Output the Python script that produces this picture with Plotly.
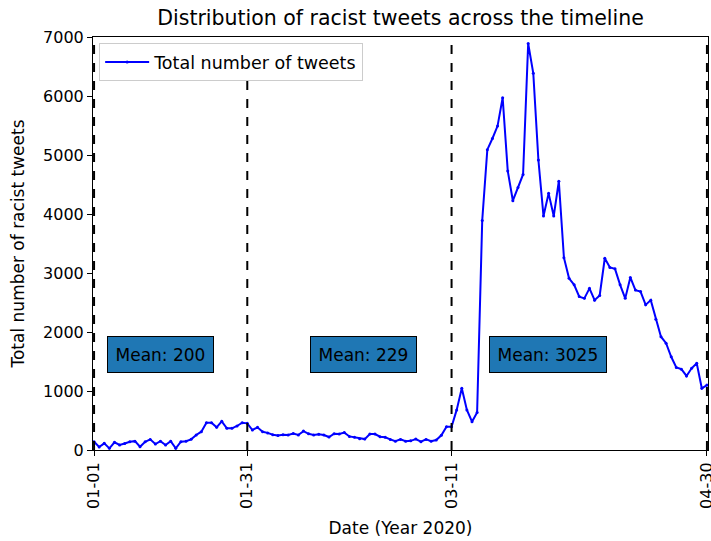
import pandas as pd
import plotly.graph_objects as go

# ---- data ----
start_date = "2020-01-01"
tweet_counts = [
    140, 50, 113, 28, 130, 85, 110, 140, 150, 55, 140, 180, 100, 150, 85, 150, 28,
    140, 150, 181, 254, 310, 463, 463, 384, 486, 367, 367, 407, 463, 452, 339, 384, 310,
    290, 260, 245, 260, 255, 280, 255, 320, 275, 255, 265, 255, 220, 275, 270, 295, 230, 215, 190,
    185, 270, 270, 225, 215, 180, 150, 180, 150, 155, 185, 140, 180, 150, 170, 250,
    395, 395, 680, 1045, 680, 480, 635, 3890, 5090, 5280, 5490, 5970, 4730, 4225, 4450, 4670,
    6890, 6385, 4915, 3965, 4350, 3965, 4555, 3260, 2910, 2800, 2600, 2570, 2740, 2540, 2620,
    3250, 3095, 3070, 2800, 2570, 2925, 2710, 2685, 2460, 2540, 2215, 1920, 1810, 1580, 1400,
    1370, 1255, 1385, 1470, 1045, 1100,
]
dates = pd.date_range(start_date, periods=len(tweet_counts), freq="D")

split_dates = ["2020-01-01", "2020-01-31", "2020-03-11", "2020-04-30"]
tick_labels = ["01-01", "01-31", "03-11", "04-30"]

mean_labels = ["Mean: 200", "Mean: 229", "Mean: 3025"]
mean_label_dates = ["2020-01-03 12:00", "2020-02-12 08:00", "2020-03-18 08:00"]
mean_label_level = 1620

FONT = "DejaVu Sans"

fig = go.Figure()
fig.add_trace(go.Scatter(
    x=dates, y=tweet_counts, mode="lines+markers",
    name="Total number of tweets",
    line=dict(color="#0000ff", width=2),
    marker=dict(color="#0000ff", size=3),
))

for d in split_dates:
    fig.add_shape(type="line", xref="x", yref="paper", x0=d, x1=d, y0=0, y1=1,
                  line=dict(color="black", width=2, dash="dash"), layer="above")

for lab, d in zip(mean_labels, mean_label_dates):
    fig.add_annotation(x=d, y=mean_label_level, xref="x", yref="y", text=lab,
                       showarrow=False, xanchor="left", yanchor="middle",
                       font=dict(family=FONT, size=17, color="black"),
                       bgcolor="#1f77b4", bordercolor="black", borderwidth=1, borderpad=7.5)

fig.update_layout(
    width=711, height=541,
    margin=dict(l=93, r=3, t=37, b=91, autoexpand=False),
    paper_bgcolor="white", plot_bgcolor="white",
    font=dict(family=FONT, size=17, color="black"),
    title=dict(text="Distribution of racist tweets across the timeline",
               x=0.5, xref="paper", y=1 - 18 / 541, yref="container",
               xanchor="center", yanchor="middle", automargin=False,
               font=dict(family=FONT, size=20.5, color="black")),
    showlegend=True,
    legend=dict(x=0.01, y=0.985, xanchor="left", yanchor="top",
                bgcolor="white", bordercolor="#cccccc", borderwidth=1,
                itemwidth=44,
                font=dict(family=FONT, size=17.5)),
)

fig.update_xaxes(
    type="date", automargin=False,
    range=["2019-12-31 19:00", "2020-04-30 05:00"],
    tickvals=split_dates, ticktext=tick_labels, tickangle=-90,
    ticklabeloverflow="allow",
    ticks="outside", ticklen=5, tickcolor="black",
    showline=True, linecolor="black", linewidth=1, mirror=True,
    showgrid=False, zeroline=False,
    tickfont=dict(family=FONT, size=16),
    title=dict(text="Date (Year 2020)", font=dict(family=FONT, size=17), standoff=14),
)
fig.update_yaxes(
    range=[0, 7000], dtick=1000, tick0=0, automargin=False,
    ticks="outside", ticklen=5, tickcolor="black",
    showline=True, linecolor="black", linewidth=1, mirror=True,
    showgrid=False, zeroline=False,
    tickfont=dict(family=FONT, size=16),
    title=dict(text="Total number of racist tweets", font=dict(family=FONT, size=17), standoff=14),
)

fig.write_html("out.html", config={"displayModeBar": False},
               post_script="document.body.style.margin='0px';")
